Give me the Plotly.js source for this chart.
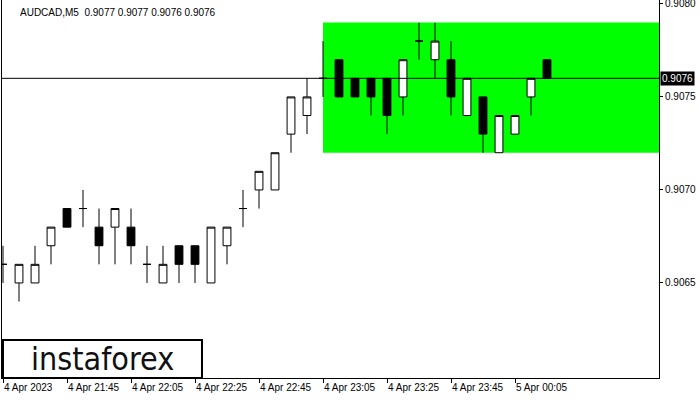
<!DOCTYPE html>
<html>
<head>
<meta charset="utf-8">
<script src="https://cdn.plot.ly/plotly-3.0.1.min.js"></script>
<style>html,body{margin:0;padding:0;background:#fff;}#chart{width:700px;height:400px;}</style>
</head>
<body>
<div id="chart"></div>
<script>
// 5-minute bars, 4 Apr 2023 21:25 .. 5 Apr 00:15
const times = ['21:25','21:30','21:35','21:40','21:45','21:50','21:55','22:00','22:05','22:10','22:15','22:20','22:25','22:30','22:35','22:40','22:45','22:50','22:55','23:00','23:05','23:10','23:15','23:20','23:25','23:30','23:35','23:40','23:45','23:50','23:55','00:00','00:05','00:10','00:15'];
const openV  = [0.9066,0.9065,0.9065,0.9067,0.9069,0.9069,0.9068,0.9068,0.9068,0.9066,0.9065,0.9067,0.9067,0.9065,0.9067,0.9069,0.9070,0.9070,0.9073,0.9074,0.9076,0.9077,0.9076,0.9076,0.9076,0.9075,0.9078,0.9077,0.9077,0.9074,0.9075,0.9072,0.9073,0.9075,0.9077];
const highV  = [0.9067,0.9066,0.9067,0.9068,0.9069,0.9070,0.9069,0.9069,0.9069,0.9067,0.9067,0.9067,0.9067,0.9068,0.9068,0.9070,0.9071,0.9072,0.9075,0.9076,0.9078,0.9077,0.9076,0.9076,0.9076,0.9077,0.9079,0.9079,0.9078,0.9076,0.9075,0.9074,0.9074,0.9076,0.9077];
const lowV   = [0.9065,0.9064,0.9065,0.9066,0.9068,0.9068,0.9066,0.9066,0.9066,0.9065,0.9065,0.9065,0.9065,0.9065,0.9066,0.9068,0.9069,0.9070,0.9072,0.9073,0.9075,0.9075,0.9075,0.9074,0.9073,0.9074,0.9077,0.9076,0.9074,0.9074,0.9072,0.9072,0.9073,0.9074,0.9076];
const closeV = [0.9066,0.9066,0.9066,0.9068,0.9068,0.9069,0.9067,0.9069,0.9067,0.9066,0.9066,0.9066,0.9066,0.9068,0.9068,0.9069,0.9071,0.9072,0.9075,0.9075,0.9076,0.9075,0.9075,0.9075,0.9074,0.9077,0.9078,0.9078,0.9075,0.9076,0.9073,0.9074,0.9074,0.9076,0.9076];

const xTickIdx = [0,4,8,12,16,20,24,28,32];
const xTickText = ['4 Apr 2023','4 Apr 21:45','4 Apr 22:05','4 Apr 22:25','4 Apr 22:45','4 Apr 23:05','4 Apr 23:25','4 Apr 23:45','5 Apr 00:05'];
const yTickVals = [0.9065,0.9070,0.9075,0.9080];

const rectStartIdx = 20;
const rectTop = 0.9079;
const rectBottom = 0.9072;
const currentPrice = 0.9076;
const titleText = 'AUDCAD,M5  0.9077 0.9077 0.9076 0.9076';

const idx = times.map((t,i)=>i);
const xMin = -0.0625, xMax = 41;

const trace = {
  type:'candlestick',
  x: idx, open: openV, high: highV, low: lowV, close: closeV,
  increasing:{fillcolor:'#ffffff', line:{color:'#000000', width:1}},
  decreasing:{fillcolor:'#000000', line:{color:'#000000', width:1}},
  whiskerwidth:0,
  hoverinfo:'skip',
  showlegend:false
};

const font = {family:'Liberation Sans, Arial, sans-serif', size:10, color:'#000'};

const layout = {
  width:700, height:400,
  margin:{l:2, r:41, t:0, b:22},
  paper_bgcolor:'#ffffff', plot_bgcolor:'#ffffff',
  showlegend:false,
  font: font,
  xaxis:{
    range:[xMin, xMax], type:'linear',
    rangeslider:{visible:false},
    showgrid:false, zeroline:false,
    showline:true, linecolor:'#000', linewidth:1, mirror:true,
    ticks:'outside', ticklen:4, tickcolor:'#000', tickwidth:1,
    tickmode:'array', tickvals:xTickIdx, ticktext:xTickText,
    ticklabelposition:'outside right',
    tickfont: font,
    fixedrange:true
  },
  yaxis:{
    range:[0.905989, 0.908021],
    side:'right',
    showgrid:false, zeroline:false,
    showline:true, linecolor:'#000', linewidth:1, mirror:true,
    ticks:'outside', ticklen:3, tickcolor:'#000', tickwidth:1,
    tickmode:'array', tickvals:yTickVals, tickformat:'.4f',
    ticklabeloverflow:'allow',
    tickfont: font,
    fixedrange:true
  },
  shapes:[
    {type:'rect', xref:'x', yref:'y', x0:rectStartIdx, x1:xMax, y0:rectBottom, y1:rectTop,
     fillcolor:'#00ff00', line:{width:0}, layer:'below'},
    {type:'line', xref:'paper', yref:'y', x0:0, x1:1, y0:currentPrice, y1:currentPrice,
     line:{color:'#000', width:1}, layer:'above'},
    {type:'rect', xref:'paper', yref:'paper', x0:0.0015, x1:0.3044, y0:0.0, y1:0.1005,
     fillcolor:'#ffffff', line:{color:'#000', width:2}, layer:'above'}
  ],
  annotations:[
    {xref:'paper', yref:'paper', x:0.0244, y:1, xanchor:'left', yanchor:'top', yshift:-5,
     text:titleText, showarrow:false, font:font},
    {xref:'paper', yref:'y', x:1, y:currentPrice, xanchor:'left', yanchor:'middle', xshift:1,
     text:currentPrice.toFixed(4), showarrow:false, bgcolor:'#000', borderpad:1,
     font:{family:font.family, size:10, color:'#fff'}},
    {xref:'paper', yref:'paper', x:0.153, y:0.05, xanchor:'center', yanchor:'middle',
     text:'instaforex', showarrow:false,
     font:{family:'Liberation Sans Narrow, DejaVu Sans Condensed, sans-serif', size:32, color:'#111'}}
  ]
};

Plotly.newPlot('chart', [trace], layout, {staticPlot:true, displayModeBar:false});
</script>
</body>
</html>
